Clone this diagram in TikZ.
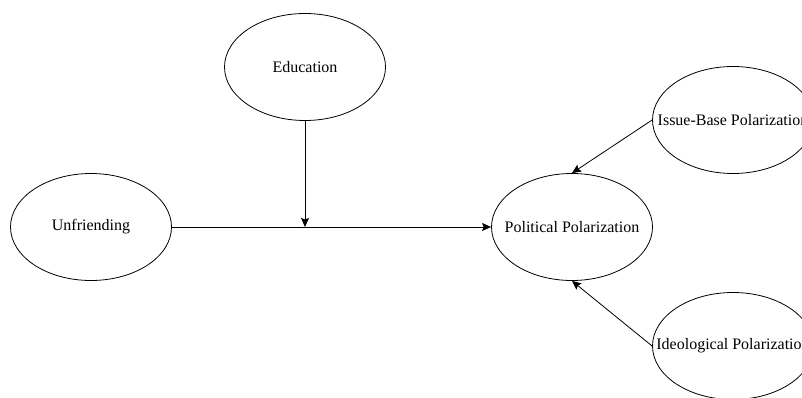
\documentclass[tikz,border=0pt]{standalone}
\usepackage{fontspec}
\setmainfont{Liberation Serif}
\usetikzlibrary{shapes.geometric,arrows.meta}
\newcommand{\zw}[1]{\makebox[0pt]{#1}}
\begin{document}
\begin{tikzpicture}[x=1pt,y=-1pt,
  var/.style={draw, ellipse, line width=0.8pt, minimum width=161pt, minimum height=107pt, inner sep=0pt, font=\fontsize{16}{19}\selectfont},
  conn/.style={line width=0.8pt, -{Stealth[length=9pt,width=8pt,inset=1.5pt]}}]
\useasboundingbox (0,0) rectangle (802,398);
\clip (0,0) rectangle (802,398);
\node[var] (edu) at (305,67) {\zw{Education}};
\node[var] (unf) at (91,227) {\zw{Unfriending}};
\node[var] (pol) at (572,227) {\zw{Political Polarization}};
\node[var] (iss) at (733,120) {\zw{Issue-Base Polarization}};
\node[var] (ideo) at (733,346) {\zw{Ideological Polarization}};
\coordinate (meet) at (edu.south |- unf.east);
\draw[conn] (unf.east) -- (pol.west);
\draw[conn] (edu.south) -- (meet);
\draw[conn] (iss.west) -- (pol.north);
\draw[conn] (ideo.west) -- (pol.south);
\end{tikzpicture}
\end{document}
